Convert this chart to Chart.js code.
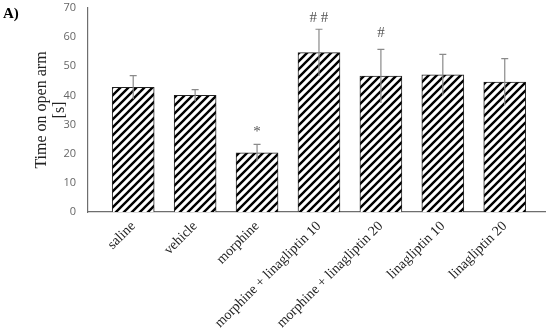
<!DOCTYPE html>
<html>
<head>
<meta charset="utf-8">
<script src="https://cdn.jsdelivr.net/npm/chart.js@4"></script>
<style>
  html, body { margin: 0; padding: 0; background: #fff; }
  #wrap { position: relative; width: 550px; height: 334px; }
</style>
</head>
<body>
<div id="wrap"><canvas id="chartOpenArm" width="550" height="334"></canvas></div>
<script>
const groups = ["saline", "vehicle", "morphine", "morphine + linagliptin 10",
  "morphine + linagliptin 20", "linagliptin 10", "linagliptin 20"];
const timeOpenArm = [42.8, 40.0, 20.3, 54.7, 46.6, 47.1, 44.6];
const errTime = [4.0, 2.0, 2.9, 8.0, 9.2, 7.0, 8.0];
const marks = ["", "", "*", "# #", "#", "", ""];
const markY = [0, 0, 27.6, 66.5, 61.3, 0, 0];
const yTicks = [0, 10, 20, 30, 40, 50, 60, 70];

function hatch(color, width) {
  const c = document.createElement("canvas");
  c.width = 8; c.height = 8;
  const g = c.getContext("2d");
  g.fillStyle = "#fff";
  g.fillRect(0, 0, 8, 8);
  g.strokeStyle = color;
  g.lineWidth = width;
  g.beginPath();
  g.moveTo(-2, 10); g.lineTo(10, -2);
  g.moveTo(-6, 6); g.lineTo(6, -6);
  g.moveTo(2, 14); g.lineTo(14, 2);
  g.stroke();
  return g.createPattern(c, "repeat");
}
const stripe = hatch("#000", 2.4);

// error bars, significance marks and panel letter
const extras = {
  id: "extras",
  afterDatasetsDraw(chart) {
    const ctx = chart.ctx;
    const xs = chart.scales.x, ys = chart.scales.y;
    ctx.save();
    ctx.strokeStyle = "#8a8a8a";
    ctx.lineWidth = 1.2;
    timeOpenArm.forEach((v, i) => {
      const px = xs.getPixelForValue(i);
      const top = ys.getPixelForValue(v + errTime[i]);
      const bot = ys.getPixelForValue(v - errTime[i]);
      ctx.beginPath();
      ctx.moveTo(px, bot); ctx.lineTo(px, top);
      ctx.moveTo(px - 3.5, top); ctx.lineTo(px + 3.5, top);
      ctx.stroke();
    });
    ctx.fillStyle = "#555";
    ctx.font = "15px 'Liberation Serif'";
    ctx.textAlign = "center";
    ctx.textBaseline = "middle";
    marks.forEach((m, i) => {
      if (!m) return;
      ctx.fillText(m, xs.getPixelForValue(i), ys.getPixelForValue(markY[i]));
    });
    ctx.fillStyle = "#000";
    ctx.font = "bold 15px 'Liberation Serif'";
    ctx.textAlign = "left";
    ctx.fillText("A)", 3, 14);
    ctx.restore();
  }
};

new Chart(document.getElementById("chartOpenArm"), {
  type: "bar",
  data: {
    datasets: [{
      data: timeOpenArm.map((v, i) => ({ x: i, y: v })),
      backgroundColor: stripe,
      borderColor: "#222",
      borderWidth: 1,
      barThickness: 42,
    }],
  },
  plugins: [extras],
  options: {
    responsive: false,
    animation: false,
    layout: { padding: { top: 0, right: 5, left: 0, bottom: 0 } },
    plugins: { legend: { display: false }, tooltip: { enabled: false } },
    scales: {
      x: {
        type: "linear",
        min: -0.73,
        max: 6.65,
        offset: false,
        afterBuildTicks: (s) => { s.ticks = groups.map((g, i) => ({ value: i })); },
        afterFit: (s) => { s.height = 122; },
        grid: { display: false, drawTicks: false },
        border: { color: "#6e6e6e", width: 1.2 },
        ticks: {
          autoSkip: false,
          maxRotation: 45,
          minRotation: 45,
          padding: 6,
          color: "#222",
          font: { family: "Liberation Serif", size: 14 },
          callback: (v) => groups[v],
        },
      },
      y: {
        min: 0,
        max: 70,
        afterBuildTicks: (s) => { s.ticks = yTicks.map((v) => ({ value: v })); },
        afterFit: (s) => { s.width = 88; s.paddingTop = 8; s.paddingBottom = 0; },
        grid: { display: false, drawTicks: true, tickLength: 4, color: "#6e6e6e" },
        border: { color: "#6e6e6e", width: 1.2 },
        ticks: {
          padding: 8,
          color: "#666",
          font: { family: "Open Sans", size: 11 },
        },
        title: {
          display: true,
          text: ["Time on open arm", "[s]"],
          color: "#222",
          padding: { top: 33, bottom: 4 },
          font: { family: "Liberation Serif", size: 16, lineHeight: 1.1 },
        },
      },
    },
  },
});
</script>
</body>
</html>
